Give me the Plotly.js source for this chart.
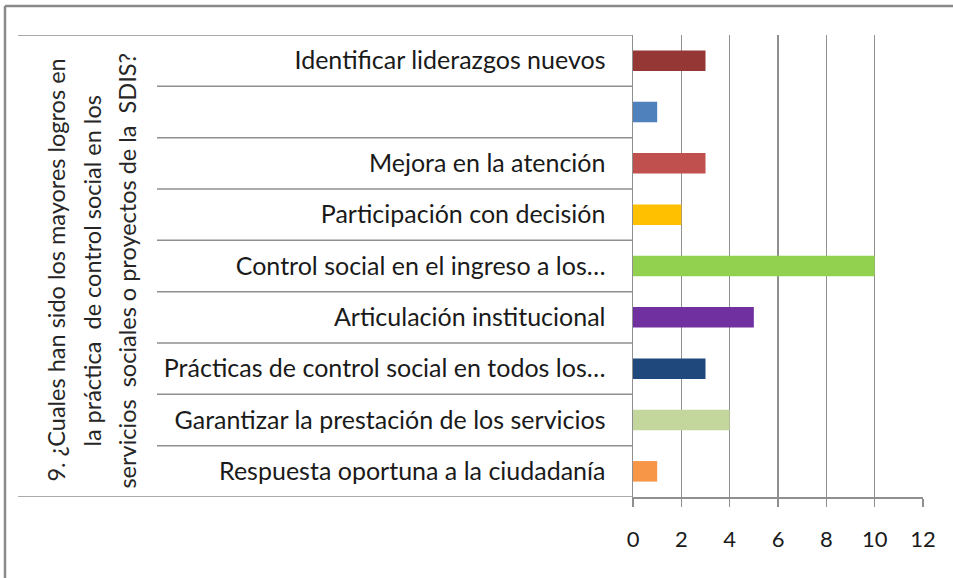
<!DOCTYPE html>
<html>
<head>
<meta charset="utf-8">
<script src="https://cdn.plot.ly/plotly-3.0.1.min.js"></script>
<style>
html,body{margin:0;padding:0;background:#fff;}
#chart{width:953px;height:578px;}
</style>
</head>
<body>
<div id="chart"></div>
<script>
// Data (top to bottom)
const categories = [
  "Identificar liderazgos nuevos",
  "",
  "Mejora en la atención",
  "Participación con decisión",
  "Control social en el ingreso a los…",
  "Articulación institucional",
  "Prácticas de control social en todos los…",
  "Garantizar la prestación de los servicios",
  "Respuesta oportuna a la ciudadanía"
];
const values = [3, 1, 3, 2, 10, 5, 3, 4, 1];
const barColors = ["#953735", "#4F81BD", "#C0504D", "#FFC000", "#92D050", "#7030A0", "#1F497D", "#C3D69B", "#F79646"];
const xTicks = [0, 2, 4, 6, 8, 10, 12];
const titleLines = [
  "9. ¿Cuales han sido los mayores logros en",
  "la práctica  de control social en los",
  "servicios  sociales o proyectos de la  SDIS?"
];

const W = 953, H = 578;
const L = 633, R = 923, T = 35, B = 497;
const pw = R - L;
const px = x => (x - L) / pw;
const FONT = "Lato, 'Open Sans', sans-serif";
const GRID = "#8f8f8f";

const pos = categories.map((c, i) => i);

const trace = {
  type: "bar",
  orientation: "h",
  x: values,
  y: pos,
  width: 0.4,
  marker: {color: barColors, line: {width: 0}},
  hoverinfo: "skip"
};

const shapes = [];
// inner category separators
for (let i = 0; i < categories.length - 1; i++) {
  shapes.push({type: "line", xref: "paper", yref: "y", x0: px(157), x1: 0, y0: i + 0.5, y1: i + 0.5,
    line: {color: GRID, width: 1.5}});
}
// top & bottom outer lines
shapes.push({type: "line", xref: "paper", yref: "y", x0: px(18), x1: 0, y0: -0.5, y1: -0.5, line: {color: GRID, width: 1.5}});
shapes.push({type: "line", xref: "paper", yref: "y", x0: px(18), x1: 0, y0: categories.length - 0.5, y1: categories.length - 0.5, line: {color: GRID, width: 1.5}});
// outer frame (top and left)
const fy = (B - 6) / (B - T);
shapes.push({type: "line", xref: "paper", yref: "paper", x0: px(5), x1: px(953), y0: fy, y1: fy, line: {color: "#8a8a8a", width: 2.5}});
shapes.push({type: "line", xref: "paper", yref: "paper", x0: px(5), x1: px(5), y0: fy, y1: -(H - B) / (B - T), line: {color: "#8a8a8a", width: 2.5}});

const titleX = [56, 92, 127];
const annotations = titleLines.map((t, i) => ({
  text: t, xref: "paper", yref: "paper", x: px(titleX[i]), y: 0.49,
  xanchor: "center", yanchor: "middle", textangle: -90, showarrow: false,
  font: {family: FONT, size: 23.5, color: "#262626"}
}));

const layout = {
  width: W, height: H,
  margin: {l: L, r: W - R, t: T, b: H - B, pad: 0},
  paper_bgcolor: "#fff", plot_bgcolor: "#fff",
  showlegend: false,
  xaxis: {
    range: [0, 12], tickvals: xTicks, ticktext: xTicks.map(String),
    showgrid: true, gridcolor: GRID, gridwidth: 1.5,
    zeroline: false, showline: true, linecolor: GRID, linewidth: 1.5,
    ticks: "outside", ticklen: 8, tickcolor: GRID, tickwidth: 1.5,
    ticklabelstandoff: 14,
    tickfont: {family: FONT, size: 22, color: "#1a1a1a"},
    fixedrange: true
  },
  yaxis: {
    range: [categories.length - 0.5, -0.5],
    tickvals: pos, ticktext: categories,
    showgrid: false, zeroline: false, showline: true, linecolor: GRID, linewidth: 1.5,
    ticks: "", ticklabelstandoff: 21,
    tickfont: {family: FONT, size: 25, color: "#1a1a1a"},
    fixedrange: true
  },
  shapes: shapes,
  annotations: annotations
};

Plotly.newPlot("chart", [trace], layout, {displayModeBar: false, staticPlot: true});
</script>
</body>
</html>
